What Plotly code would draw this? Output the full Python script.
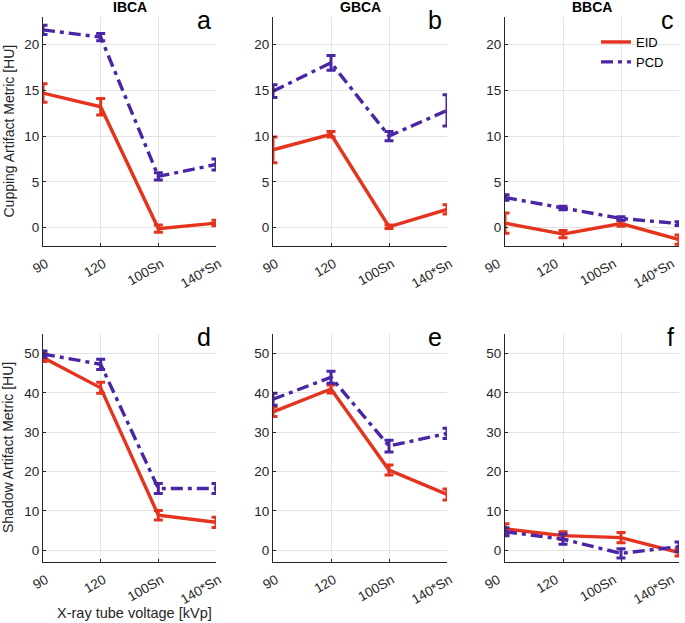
import plotly.graph_objects as go

kvp = ["90", "120", "100Sn", "140*Sn"]

# Cupping artifact metric [HU]
cup_ibca_eid = [14.7, 13.2, -0.1, 0.5]
cup_ibca_eid_err = [1.0, 0.9, 0.4, 0.3]
cup_ibca_pcd = [21.6, 20.8, 5.6, 6.9]
cup_ibca_pcd_err = [0.5, 0.4, 0.4, 0.6]

cup_gbca_eid = [8.5, 10.2, 0.1, 2.0]
cup_gbca_eid_err = [1.4, 0.3, 0.2, 0.5]
cup_gbca_pcd = [14.9, 18.0, 10.0, 12.8]
cup_gbca_pcd_err = [0.7, 0.8, 0.5, 1.7]

cup_bbca_eid = [0.5, -0.7, 0.45, -1.3]
cup_bbca_eid_err = [1.1, 0.4, 0.3, 0.5]
cup_bbca_pcd = [3.3, 2.15, 1.0, 0.45]
cup_bbca_pcd_err = [0.3, 0.2, 0.2, 0.2]

# Shadow artifact metric [HU]
sh_ibca_eid = [49.0, 41.3, 8.9, 7.1]
sh_ibca_eid_err = [1.0, 1.4, 1.2, 1.3]
sh_ibca_pcd = [49.9, 47.3, 15.7, 15.7]
sh_ibca_pcd_err = [0.8, 1.3, 1.3, 1.3]

sh_gbca_eid = [35.2, 41.0, 20.4, 14.2]
sh_gbca_eid_err = [1.2, 1.0, 1.3, 1.4]
sh_gbca_pcd = [38.4, 44.0, 26.5, 29.7]
sh_gbca_pcd_err = [1.5, 1.5, 1.5, 1.3]

sh_bbca_eid = [5.4, 3.7, 3.2, -0.6]
sh_bbca_eid_err = [1.3, 1.0, 1.3, 0.9]
sh_bbca_pcd = [4.7, 2.8, -0.8, 0.9]
sh_bbca_pcd_err = [1.0, 1.3, 1.2, 1.2]

titles = ["IBCA", "GBCA", "BBCA"]
letters = ["a", "b", "c", "d", "e", "f"]

RED = "#E5331E"
PURPLE = "#4A26A6"
W, H = 685, 623

xdom = [(43, 216), (273, 447), (505, 679)]
ydom = [(17, 246), (334, 562)]
label_shift = [3, 3, -7]

panels = [
    (cup_ibca_eid, cup_ibca_eid_err, cup_ibca_pcd, cup_ibca_pcd_err),
    (cup_gbca_eid, cup_gbca_eid_err, cup_gbca_pcd, cup_gbca_pcd_err),
    (cup_bbca_eid, cup_bbca_eid_err, cup_bbca_pcd, cup_bbca_pcd_err),
    (sh_ibca_eid, sh_ibca_eid_err, sh_ibca_pcd, sh_ibca_pcd_err),
    (sh_gbca_eid, sh_gbca_eid_err, sh_gbca_pcd, sh_gbca_pcd_err),
    (sh_bbca_eid, sh_bbca_eid_err, sh_bbca_pcd, sh_bbca_pcd_err),
]

fig = go.Figure()
layout = {}
annotations = []
FONT = "Liberation Sans, Arial, sans-serif"
TXT = "#262626"

for i, (eid, eid_e, pcd, pcd_e) in enumerate(panels):
    r, c = divmod(i, 3)
    n = i + 1
    xa = "x" if n == 1 else f"x{n}"
    ya = "y" if n == 1 else f"y{n}"
    show = (i == 2)
    fig.add_trace(go.Scatter(
        x=kvp, y=eid, mode="lines", name="EID", xaxis=xa, yaxis=ya,
        line=dict(color=RED, width=3.4),
        error_y=dict(type="data", array=eid_e, color=RED, thickness=3, width=4.5),
        showlegend=show, legendrank=1, cliponaxis=False))
    fig.add_trace(go.Scatter(
        x=kvp, y=pcd, mode="lines", name="PCD", xaxis=xa, yaxis=ya,
        line=dict(color=PURPLE, width=3.4, dash="12px,5px,4px,5px"),
        error_y=dict(type="data", array=pcd_e, color=PURPLE, thickness=3, width=4.5),
        showlegend=show, legendrank=2, cliponaxis=False))

    x0, x1 = xdom[c]
    y0, y1 = ydom[r]
    if r == 0:
        yr = [-2, 23]
        tv = [0, 5, 10, 15, 20]
    else:
        yr = [-3, 55]
        tv = [0, 10, 20, 30, 40, 50]
    layout["xaxis" if n == 1 else f"xaxis{n}"] = dict(
        domain=[x0 / W, x1 / W], anchor=ya, type="category",
        categoryorder="array", categoryarray=kvp, range=[0, 3],
        automargin=False,
        showgrid=True, gridcolor="#e3e3e3", gridwidth=1,
        showline=True, linecolor="#262626", linewidth=1,
        ticks="inside", ticklen=3, tickcolor="#262626",
        ticklabelstandoff=4, ticklabelshift=label_shift[c],
        tickangle=-30, tickfont=dict(family=FONT, size=13.5, color=TXT),
        zeroline=False, fixedrange=True)
    layout["yaxis" if n == 1 else f"yaxis{n}"] = dict(
        domain=[1 - y1 / H, 1 - y0 / H], anchor=xa, range=yr,
        automargin=False,
        tickvals=tv, showgrid=True, gridcolor="#e3e3e3", gridwidth=1,
        showline=True, linecolor="#262626", linewidth=1,
        ticks="inside", ticklen=3, tickcolor="#262626",
        tickfont=dict(family=FONT, size=13.5, color=TXT),
        zeroline=False, fixedrange=True)

    # panel letter
    annotations.append(dict(
        text=letters[i], xref="paper", yref="paper",
        x=(x1 - 3) / W, y=1 - (y0 - 13) / H, xanchor="right", yanchor="top",
        showarrow=False, font=dict(family=FONT, size=25, color="#000000")))
    if r == 0:
        annotations.append(dict(
            text=f"<b>{titles[c]}</b>", xref="paper", yref="paper",
            x=(x0 + x1) / 2 / W, y=1 - 7 / H, xanchor="center", yanchor="middle",
            showarrow=False, font=dict(family=FONT, size=14, color="#000000")))

annotations.append(dict(
    text="Cupping Artifact Metric [HU]", xref="paper", yref="paper",
    x=8 / W, y=1 - 131.5 / H, textangle=-90, xanchor="center", yanchor="middle",
    showarrow=False, font=dict(family=FONT, size=14, color=TXT)))
annotations.append(dict(
    text="Shadow Artifact Metric [HU]", xref="paper", yref="paper",
    x=8 / W, y=1 - 448 / H, textangle=-90, xanchor="center", yanchor="middle",
    showarrow=False, font=dict(family=FONT, size=14, color=TXT)))
annotations.append(dict(
    text="X-ray tube voltage [kVp]", xref="paper", yref="paper",
    x=134 / W, y=1 - 613 / H, xanchor="center", yanchor="middle",
    showarrow=False, font=dict(family=FONT, size=14.5, color=TXT)))

fig.update_layout(
    width=W, height=H, margin=dict(l=0, r=0, t=0, b=0, autoexpand=False),
    paper_bgcolor="white", plot_bgcolor="white",
    showlegend=True,
    legend=dict(x=596 / W, y=1 - 27 / H, xanchor="left", yanchor="top",
                bgcolor="rgba(0,0,0,0)", font=dict(family=FONT, size=13, color="#000000"),
                tracegroupgap=0, itemwidth=30),
    annotations=annotations,
    **layout)

fig.write_html(
    "out.html",
    config={"displayModeBar": False, "staticPlot": True},
    post_script="document.body.style.margin='0';document.body.style.overflow='hidden';",
)
